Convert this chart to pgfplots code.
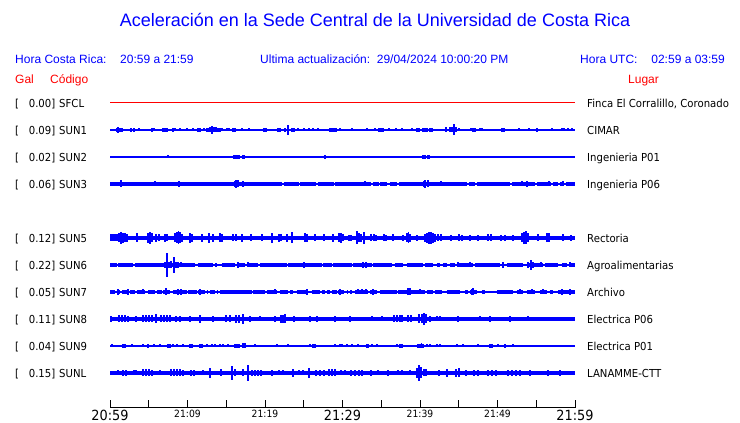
\documentclass[border=0pt]{standalone}
\usepackage{fontspec}
\setmainfont{Liberation Sans}
\newfontfamily\dv[FakeStretch=0.92]{DejaVu Sans}
\usepackage{pgfplots}
\pgfplotsset{compat=1.18}
\definecolor{gblue}{RGB}{0,0,255}
\definecolor{gred}{RGB}{255,0,0}
\newcommand\fs[1]{\fontsize{#1}{#1}\selectfont}
\newcommand\bigt{\dv\fs{14}}
\newcommand\smt{\dv\fs{10}}

\pgfplotsset{
  base/.style={gblue, line width=1.1pt, forget plot},
  band/.style={gblue, line width=#1, unbounded coords=jump, forget plot},
  spk/.style={draw=none, mark=none, forget plot,
    error bars/y dir=both, error bars/y explicit, error bars/error mark=none,
    error bars/error bar style={draw=gblue, solid, line width=1.6pt}},
}

\begin{document}
\begin{tikzpicture}[x=1pt,y=1pt]
\path[use as bounding box] (0,0) rectangle (740,423);

\begin{axis}[at={(110pt,15pt)}, anchor=south west, scale only axis,
  width=465pt, height=318pt,
  xmin=0, xmax=60, ymin=15, ymax=333,
  axis x line*=bottom, axis y line=none, ytick=\empty,
  xtick={0,5,...,60},
  xticklabels={{\bigt 20:59},{},{\smt 21:09},{},{\smt 21:19},{},{\bigt 21:29},{},{\smt 21:39},{},{\smt 21:49},{},{\bigt 21:59}},
  tick align=inside, major tick length=8pt,
  tick style={black, line width=1pt},
  axis line style={black, line width=1pt},
  xticklabel style={anchor=north, inner sep=0pt, yshift=-2pt},
  clip=false]

% SFCL
\addplot[gred, line width=1pt, forget plot] coordinates {(0,320) (60,320)};

% SUN1
\addplot[base] coordinates {(0,293) (60,293)};
\addplot[spk] table[row sep=\\, x=t, y expr=293, y error=a] {t a\\
0.90 1.8\\ 1.03 3\\ 1.29 1.8\\ 1.55 1.8\\ 2.71 1.8\\ 3.10 1.8\\ 3.74 1.5\\ 4.39 1.2\\ 5.42 1.8\\ 5.68 1.5\\
6.84 1.8\\ 7.10 2\\ 7.35 1.8\\ 8.13 1.8\\ 8.39 1.5\\ 9.03 1.5\\ 9.94 1.5\\ 10.71 1.5\\ 11.35 1.8\\ 11.61 1.8\\
12.13 1.5\\ 12.52 1.8\\ 12.65 2\\ 12.90 2.5\\ 13.16 4\\ 13.42 2.5\\ 13.68 2.5\\ 13.94 2\\ 14.19 2\\ 14.45 1.5\\
15.10 1.5\\ 15.35 1.5\\ 15.87 1.8\\ 16.13 1.8\\ 17.03 1.5\\ 17.94 1.5\\ 19.10 1.2\\ 19.87 1.8\\ 20.13 1.8\\
21.68 1.8\\ 21.94 1.8\\ 22.58 1.8\\ 22.97 5\\ 23.48 1.8\\ 23.74 1.8\\ 24.26 1.5\\ 25.03 1.5\\ 25.68 1.5\\
26.19 1.5\\ 26.84 1.5\\ 27.61 1.2\\ 28.39 1.8\\ 28.65 2\\ 28.90 2\\ 29.16 1.8\\ 29.68 1.5\\ 30.58 1.2\\
31.23 1.5\\ 32.00 1.2\\ 32.65 1.2\\ 33.16 1.5\\ 33.68 1.2\\ 34.19 1.5\\ 34.71 2\\ 34.97 2\\ 35.23 1.8\\
36.00 1.5\\ 36.39 1.2\\ 36.90 1.5\\ 37.68 1.5\\ 38.45 1.2\\ 38.97 1.5\\ 39.61 1.8\\ 39.87 1.8\\ 40.39 2\\
40.65 2\\ 40.90 1.8\\ 41.29 2\\ 41.55 1.8\\ 42.19 1.2\\ 43.35 2.5\\ 43.87 2.5\\ 44.13 2.5\\ 44.39 5.5\\
44.65 2.5\\ 45.03 1.5\\ 46.06 1.2\\ 46.58 1.5\\ 46.84 2\\ 47.10 1.8\\ 47.74 1.5\\ 48.00 1.5\\ 49.68 1.2\\
50.58 2\\ 50.84 2\\ 51.61 1.2\\ 52.77 1.5\\ 54.06 1.5\\ 55.10 1.8\\ 56.00 1.2\\ 57.03 1.5\\ 58.32 1.5\\
58.58 1.5\\ 59.10 1.5\\ 59.61 1.5\\
};

% SUN2
\addplot[base] coordinates {(0,266) (60,266)};
\addplot[spk] table[row sep=\\, x=t, y expr=266, y error=a] {t a\\
2.06 1.3\\ 7.48 1.5\\ 16.00 2\\ 16.26 2\\ 16.52 2\\ 16.65 2\\ 17.16 2\\ 17.29 1.8\\ 26.19 1.3\\ 27.74 1.8\\
38.58 1.2\\ 40.39 2\\ 40.52 2\\ 40.65 2\\ 41.03 2\\ 41.16 2\\ 41.42 1.3\\
};

% SUN3
\addplot[base] coordinates {(0,239) (60,239)};
\addplot[band=3.6pt] table[row sep=\\, x=t, y expr=239] {t\\
0\\ 22.19\\ nan\\ 22.45\\ 24.39\\ nan\\ 24.52\\ 26.58\\ nan\\ 26.84\\ 28.90\\ nan\\ 29.03\\ 33.68\\ nan\\
33.94\\ 34.71\\ nan\\ 34.84\\ 35.74\\ nan\\ 36.13\\ 37.03\\ nan\\ 37.29\\ 46.06\\ nan\\ 46.32\\ 47.10\\ nan\\
47.35\\ 51.61\\ nan\\ 51.87\\ 54.84\\ nan\\ 55.10\\ 56.90\\ nan\\ 57.16\\ 57.81\\ nan\\ 58.06\\ 58.58\\ nan\\
58.84\\ 60\\
};
\addplot[spk] table[row sep=\\, x=t, y expr=239, y error=a] {t a\\
1.42 3.5\\ 5.81 2.5\\ 8.90 3\\ 16.13 3\\ 16.26 4\\ 16.52 3.5\\ 17.16 3\\ 32.90 2.5\\ 40.52 3\\ 40.65 4\\
41.03 3.5\\ 42.71 2.5\\ 53.16 2.5\\ 53.81 3\\ 56.65 2.5\\ 58.45 2.5\\
};

% SUN5
\addplot[band=4.6pt] coordinates {(0,185) (60,185)};
\addplot[spk] table[row sep=\\, x=t, y expr=185, y error=a] {t a\\
0.13 3.5\\ 0.39 3.5\\ 0.65 3.5\\ 0.90 3.5\\ 1.16 4.5\\ 1.42 6\\ 1.68 5\\ 1.94 4.5\\ 2.19 4\\ 3.48 4.5\\
4.90 5\\ 5.16 6\\ 5.42 4.5\\ 5.94 4\\ 6.32 3.5\\ 7.10 4\\ 7.35 3.5\\ 8.39 4.5\\ 8.65 5.5\\ 8.84 6.5\\
9.03 5.5\\ 9.29 4\\ 10.32 5\\ 10.58 4\\ 11.87 4\\ 12.77 5\\ 13.29 4\\ 14.19 4.5\\ 14.45 4\\ 15.87 3.5\\
16.26 3.5\\ 17.03 4\\ 18.19 3.5\\ 19.61 3.5\\ 20.90 5\\ 21.81 4\\ 22.06 3.5\\ 22.84 4\\ 23.48 5.5\\
25.16 4.5\\ 25.42 4\\ 26.45 3.5\\ 27.61 3.5\\ 28.77 4\\ 29.55 4.5\\ 29.81 5\\ 30.06 3.5\\ 30.84 3\\
31.10 3\\ 31.87 6.5\\ 32.13 4.5\\ 32.39 4\\ 32.77 6\\ 33.68 3.5\\ 34.06 3.5\\ 34.32 3\\ 35.35 3.5\\
35.61 3\\ 36.52 3.5\\ 37.81 3\\ 38.32 4.5\\ 38.52 5.5\\ 38.71 4\\ 39.61 3\\ 40.65 4\\ 40.90 5\\ 41.16 6\\
41.42 6\\ 41.68 5\\ 41.94 4\\ 42.32 3.5\\ 42.71 3.5\\ 44.00 3\\ 45.03 3.5\\ 45.42 3\\ 46.45 3\\ 47.48 3\\
48.77 3.5\\ 49.16 3.5\\ 50.45 3\\ 50.97 3\\ 52.00 3\\ 53.16 4.5\\ 53.42 6\\ 53.68 6.5\\ 53.94 4.5\\
55.23 3.5\\ 56.39 4.5\\ 56.65 4.5\\ 58.45 3.5\\ 59.48 3\\
};

% SUN6
\addplot[base] coordinates {(0,158) (60,158)};
\addplot[band=3.4pt] table[row sep=\\, x=t, y expr=158] {t\\
0\\ 0.90\\ nan\\ 1.03\\ 2.97\\ nan\\ 3.23\\ 10.97\\ nan\\ 11.35\\ 13.29\\ nan\\ 13.55\\ 13.81\\ nan\\
14.45\\ 16.13\\ nan\\ 16.39\\ 17.42\\ nan\\ 17.68\\ 19.10\\ nan\\ 19.35\\ 22.84\\ nan\\ 22.97\\ 24.90\\ nan\\
25.16\\ 27.35\\ nan\\ 27.48\\ 28.65\\ nan\\ 28.77\\ 31.23\\ nan\\ 31.35\\ 33.81\\ nan\\ 33.94\\ 36.39\\ nan\\
36.77\\ 37.81\\ nan\\ 38.32\\ 40.39\\ nan\\ 40.65\\ 41.68\\ nan\\ 42.19\\ 42.58\\ nan\\ 42.97\\ 43.48\\ nan\\
43.87\\ 44.52\\ nan\\ 44.77\\ 46.84\\ nan\\ 47.10\\ 50.32\\ nan\\ 50.58\\ 50.71\\ nan\\ 51.23\\ 53.29\\ nan\\
53.81\\ 54.19\\ nan\\ 54.45\\ 55.87\\ nan\\ 56.13\\ 57.81\\ nan\\ 58.32\\ 58.97\\ nan\\ 59.35\\ 60\\
};
\addplot[spk] table[row sep=\\, x=t, y expr=158, y error=a] {t a\\
7.10 3\\ 7.35 12.3\\ 7.61 3\\ 7.87 3.5\\ 8.26 8\\ 8.52 3\\ 8.77 3\\ 9.16 2.5\\ 16.52 3\\ 17.81 2.5\\
25.03 3\\ 32.65 3\\ 33.03 3\\ 44.90 2.5\\ 46.45 2.5\\ 50.71 3\\ 53.94 3\\ 54.32 5\\ 54.58 3\\ 55.61 2.5\\
59.35 2.5\\
};

% SUN7
\addplot[base] coordinates {(0,131) (60,131)};
\addplot[band=3.2pt] table[row sep=\\, x=t, y expr=131] {t\\
0\\ 0.65\\ nan\\ 0.90\\ 1.29\\ nan\\ 1.55\\ 2.45\\ nan\\ 2.58\\ 3.23\\ nan\\ 3.48\\ 4.52\\ nan\\
4.90\\ 5.81\\ nan\\ 6.06\\ 6.71\\ nan\\ 6.84\\ 7.74\\ nan\\ 8.13\\ 9.94\\ nan\\ 10.06\\ 11.23\\ nan\\
11.35\\ 12.26\\ nan\\ 12.52\\ 12.65\\ nan\\ 12.90\\ 13.55\\ nan\\ 13.81\\ 13.94\\ nan\\ 14.19\\ 18.32\\ nan\\
18.45\\ 20.00\\ nan\\ 20.26\\ 21.55\\ nan\\ 21.94\\ 22.97\\ nan\\ 23.23\\ 23.61\\ nan\\ 24.13\\ 25.55\\ nan\\
26.06\\ 27.10\\ nan\\ 27.35\\ 27.74\\ nan\\ 28.00\\ 28.39\\ nan\\ 28.65\\ 29.29\\ nan\\ 29.42\\ 30.19\\ nan\\
30.58\\ 30.71\\ nan\\ 30.97\\ 31.23\\ nan\\ 31.61\\ 33.29\\ nan\\ 33.55\\ 34.45\\ nan\\ 34.84\\ 37.03\\ nan\\
37.16\\ 40.65\\ nan\\ 40.90\\ 41.68\\ nan\\ 41.94\\ 42.84\\ nan\\ 43.48\\ 45.16\\ nan\\ 45.81\\ 46.19\\ nan\\
46.45\\ 47.35\\ nan\\ 48.00\\ 48.39\\ nan\\ 49.94\\ 52.00\\ nan\\ 52.52\\ 53.29\\ nan\\ 53.81\\ 54.84\\ nan\\
55.48\\ 56.39\\ nan\\ 56.77\\ 57.16\\ nan\\ 57.81\\ 60\\
};
\addplot[spk] table[row sep=\\, x=t, y expr=131, y error=a] {t a\\
1.03 3\\ 2.32 3\\ 4.26 2.5\\ 7.23 3.5\\ 8.77 3\\ 9.16 3\\ 11.61 3\\ 21.29 2.5\\ 25.42 3\\ 29.68 3\\
32.00 2.5\\ 32.52 2.5\\ 33.03 2.5\\ 33.94 3\\ 38.45 3.5\\ 38.71 3.5\\ 40.00 2.5\\ 46.71 3\\ 46.84 3.5\\
52.90 2.5\\ 54.45 2.5\\ 55.87 2.5\\ 58.32 3\\ 59.35 3\\
};

% SUN8
\addplot[band=3.8pt] coordinates {(0,104) (60,104)};
\addplot[spk] table[row sep=\\, x=t, y expr=104, y error=a] {t a\\
0.13 3\\ 1.16 3.5\\ 1.55 3.5\\ 1.94 3.5\\ 2.32 3\\ 3.35 3\\ 4.26 3.5\\ 4.65 3.5\\ 5.03 3.5\\ 5.42 3.5\\
5.94 4.5\\ 6.58 3.5\\ 6.97 3.5\\ 7.35 3.5\\ 7.74 3.5\\ 8.52 3\\ 9.03 3\\ 10.32 3\\ 11.61 4\\ 13.29 3\\
14.97 3.5\\ 15.48 3.5\\ 16.26 4\\ 16.65 4\\ 17.16 5\\ 18.06 3\\ 19.35 2.5\\ 21.29 3\\ 22.06 4\\ 22.32 4\\
22.58 4.5\\ 23.74 3\\ 25.81 3\\ 26.71 3\\ 29.03 3\\ 30.97 3\\ 33.81 2.5\\ 35.10 2.5\\ 36.65 3.5\\
37.03 3.5\\ 37.42 3.5\\ 37.68 3.5\\ 38.45 3.5\\ 38.84 3.5\\ 39.87 4.5\\ 40.26 4.5\\ 40.52 6\\ 40.77 4.5\\
41.29 3\\ 42.19 2.5\\ 42.58 2.5\\ 44.90 3\\ 47.74 2.5\\ 49.03 3\\ 51.61 3\\ 53.94 2.5\\
};

% SUN9
\addplot[base] coordinates {(0,77) (60,77)};
\addplot[spk] table[row sep=\\, x=t, y expr=77, y error=a] {t a\\
0.26 1.5\\ 1.68 2\\ 1.94 2\\ 2.84 1.5\\ 4.26 1.5\\ 4.90 2\\ 5.68 1.5\\ 6.45 1.5\\ 7.48 1.8\\ 7.74 1.8\\
8.13 1.5\\ 8.65 1.5\\ 9.42 1.5\\ 10.32 2\\ 10.58 2\\ 11.61 2.3\\ 11.87 2.3\\ 12.52 1.5\\ 13.16 1.5\\
13.55 1.5\\ 14.19 1.5\\ 14.58 1.5\\ 15.23 1.5\\ 16.13 2\\ 16.39 2\\ 16.65 2\\ 17.16 2.5\\ 17.42 2.5\\
18.71 1.5\\ 21.55 1.5\\ 22.97 1.5\\ 25.81 1.5\\ 26.19 2\\ 26.45 2\\ 29.03 1.5\\ 29.68 1.5\\ 29.94 1.5\\
30.58 1.5\\ 31.23 1.5\\ 32.00 1.5\\ 33.16 1.8\\ 33.35 1.8\\ 33.81 1.5\\ 34.45 1.5\\ 37.03 1.5\\ 37.42 1.8\\
37.68 1.8\\ 39.74 2\\ 40.00 2\\ 40.19 2.5\\ 40.39 2\\ 40.90 1.5\\ 41.29 1.5\\ 42.19 1.5\\ 42.58 1.5\\
44.77 1.5\\ 45.55 1.5\\ 47.48 1.5\\ 49.03 1.8\\ 49.29 1.8\\ 50.06 1.5\\ 50.97 2\\ 52.00 1.5\\
};

% SUNL
\addplot[band=3.6pt] coordinates {(0,50) (60,50)};
\addplot[spk] table[row sep=\\, x=t, y expr=50, y error=a] {t a\\
1.03 2.5\\ 1.68 3\\ 2.06 3\\ 3.10 2.5\\ 3.35 2.5\\ 4.26 3.5\\ 4.65 3.5\\ 5.03 3.5\\ 5.42 3\\ 6.45 2.5\\
7.87 3.5\\ 8.26 3.5\\ 8.65 3.5\\ 9.03 3.5\\ 9.42 3\\ 10.45 3\\ 10.84 3\\ 12.00 2.5\\ 12.90 4.7\\ 14.32 3.5\\
15.74 6.7\\ 16.13 3.5\\ 17.16 3.5\\ 17.81 8\\ 18.32 3\\ 18.71 3\\ 19.10 3\\ 19.48 3\\ 20.90 3\\ 21.81 2.5\\
22.32 2.5\\ 23.61 4\\ 24.39 2.5\\ 24.90 2.5\\ 25.68 5\\ 26.58 3\\ 27.10 3\\ 27.61 3\\ 28.26 3.5\\
28.65 3.5\\ 29.03 3.5\\ 29.81 2.5\\ 30.32 2.5\\ 31.10 3\\ 31.61 3\\ 32.13 3\\ 32.52 3\\ 33.68 3\\
34.58 2.5\\ 35.87 3\\ 37.16 2.5\\ 37.68 2.5\\ 38.71 2.5\\ 39.61 5\\ 39.87 8\\ 40.13 5.5\\ 40.52 3.5\\
40.77 3.5\\ 42.45 3\\ 43.48 4\\ 44.65 4\\ 45.03 4.5\\ 45.94 3\\ 46.97 3\\ 47.48 3\\ 48.77 3\\ 49.29 3\\
49.81 3\\ 51.35 3\\ 51.87 3\\ 52.39 3\\ 52.90 3\\ 54.19 3\\ 56.52 3\\ 58.06 3\\
};

\end{axis}

% titles
\node[anchor=base, text=gblue, font=\fs{18}] at (375,396) {Aceleración en la Sede Central de la Universidad de Costa Rica};
\begin{scope}[every node/.style={anchor=base west, text=gblue, font=\fs{12}, inner sep=0pt}]
  \node at (15,359) {Hora Costa Rica:};
  \node at (120,359) {20:59 a 21:59};
  \node at (260,359) {Ultima actualización:\ \ 29/04/2024 10:00:20 PM};
  \node at (580,359) {Hora UTC:};
  \node[anchor=base east] at (725,359) {02:59 a 03:59};
  \node[text=gred] at (15,339) {Gal};
  \node[text=gred] at (50,339) {Código};
  \node[text=gred] at (628,339) {Lugar};
\end{scope}

% row labels
\begin{scope}[every node/.style={inner sep=0pt, font=\dv\fs{11}}]
\foreach \yy/\g/\c/\l in {320/0.00/SFCL/{Finca El Corralillo, Coronado},
    293/0.09/SUN1/CIMAR, 266/0.02/SUN2/Ingenieria P01, 239/0.06/SUN3/Ingenieria P06,
    185/0.12/SUN5/Rectoria, 158/0.22/SUN6/Agroalimentarias, 131/0.05/SUN7/Archivo,
    104/0.11/SUN8/Electrica P06, 77/0.04/SUN9/Electrica P01, 50/0.15/SUNL/LANAMME-CTT} {
  \node[anchor=base west] at (15,\yy-5) {[};
  \node[anchor=base east] at (55.5,\yy-5) {\g]};
  \node[anchor=base west] at (59,\yy-5) {\c};
  \node[anchor=base west] at (587,\yy-5) {\l};
}
\end{scope}
\end{tikzpicture}
\end{document}
